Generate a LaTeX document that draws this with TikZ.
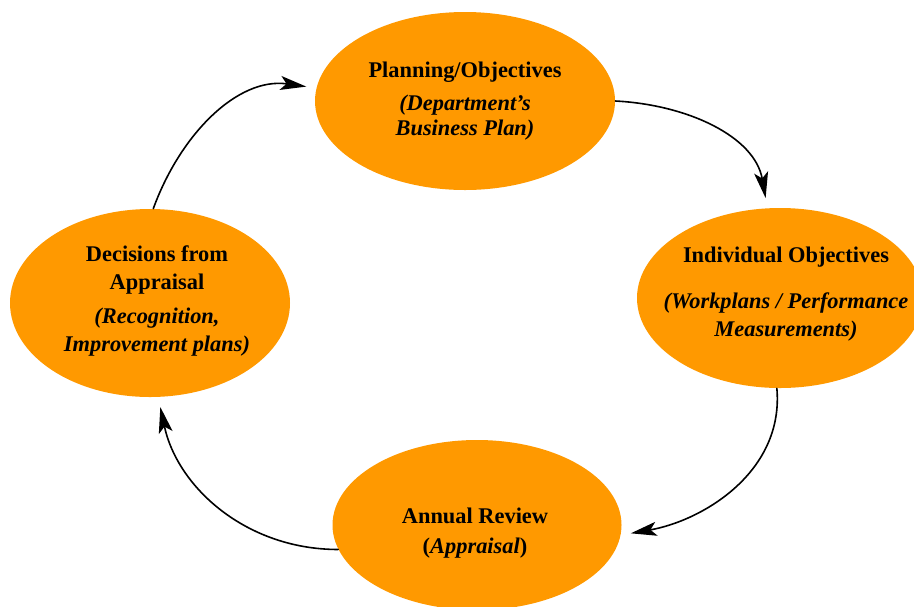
\documentclass[tikz,border=0pt]{standalone}
\usepackage{fontspec}
\setmainfont{Liberation Serif}
\usetikzlibrary{shapes.geometric,arrows.meta}
\definecolor{boxorange}{RGB}{255,153,0}
\begin{document}
\begin{tikzpicture}[x=0.5pt, y=-0.5pt, font=\fontsize{11.2}{14}\selectfont\bfseries, line join=round, line cap=round,
		>={Stealth[length=13pt,width=7pt,inset=3pt]},
		stage/.style={ellipse, fill=boxorange, inner sep=0pt},
		stagetext/.style={align=center, inner sep=0pt},
		cycle/.style={->, line width=0.8pt, shorten >=5pt}]
			\useasboundingbox (0,0) rectangle (914,606);
			% stages
			\node[stage, minimum width=150pt, minimum height=89pt] (plan) at (465,101) {};
			\node[stage, minimum width=143pt, minimum height=90pt] (indiv) at (780,298) {};
			\node[stage, minimum width=144.5pt, minimum height=85pt] (review) at (477,525) {};
			\node[stage, minimum width=140pt, minimum height=94pt] (decide) at (150,303) {};
			% texts
			\node[stagetext] (plantext) at (465,101)
				{Planning/Objectives\\[2.5pt] \textit{(Department's}\\[-1.5pt] \textit{Business Plan)}};
			\node[stagetext] (indivtext) at (786,294)
				{Individual Objectives\\[9pt] \textit{(Workplans / Performance}\\ \textit{Measurements)}};
			\node[stagetext] (reviewtext) at (475,533)
				{Annual Review\\[1pt] (\textit{Appraisal})};
			\node[stagetext] (decidetext) at (157,301)
				{Decisions from\\ Appraisal\\[3pt] \textit{(Recognition,}\\ \textit{Improvement plans)}};
			% cycle
			\draw[cycle] (decide.88) to[out=70, in=172] (plan.175);
			\draw[cycle] (plan.east) to[out=-3, in=100] (indiv.98);
			\draw[cycle] (indiv.268) to[out=-85, in=10] (review.356);
			\draw[cycle] (review.190) to[out=180, in=-78] (decide.275);
		\end{tikzpicture}
\end{document}
